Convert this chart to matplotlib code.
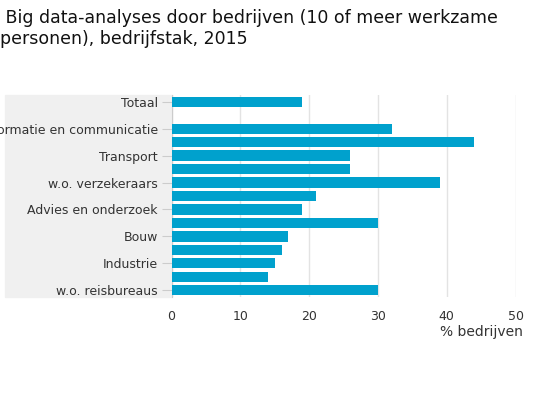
import matplotlib
matplotlib.use("Agg")
import matplotlib.pyplot as plt
from matplotlib.patches import Rectangle

categories = [
    "Totaal",
    "",
    "Informatie en communicatie",
    "w.o. IT-dienstverlening",
    "Transport",
    "Financiële dienstverlening",
    "w.o. verzekeraars",
    "Handel",
    "Advies en onderzoek",
    "Verhuur en overige zakelijke diensten",
    "Bouw",
    "Energie en water",
    "Industrie",
    "Horeca",
    "w.o. reisbureaus",
]
values = [19, None, 32, 44, 26, 26, 39, 21, 19, 30, 17, 16, 15, 14, 30]
shown_labels = ["Totaal", "Informatie en communicatie", "Transport", "w.o. verzekeraars",
                "Advies en onderzoek", "Bouw", "Industrie", "w.o. reisbureaus"]
x_ticks = [0, 10, 20, 30, 40, 50]

title = " Big data-analyses door bedrijven (10 of meer werkzame\npersonen), bedrijfstak, 2015"
xlabel = "% bedrijven"

bar_color = "#00a1cd"
grid_color = "#e3e3e3"
text_color = "#333333"

fig = plt.figure(figsize=(5.35, 4.0), dpi=100)
ax = fig.add_axes([0.3206, 0.2575, 0.643, 0.505])

# grey band behind the category labels
fig.patches.append(Rectangle((5 / 535, 0.2575), 0.3206 - 5 / 535, 0.505,
                             transform=fig.transFigure, color="#f0f0f0", zorder=-5))

pos = [i for i, v in enumerate(values) if v is not None]
vals = [v for v in values if v is not None]
ax.barh(pos, vals, height=0.76, color=bar_color, zorder=3)

ax.set_ylim(len(categories) - 0.5, -0.5)
ax.set_xlim(0, 50)
ax.set_yticks(range(len(categories)))
ax.set_yticklabels([c if c in shown_labels else "" for c in categories])
ax.set_xticks(x_ticks)
ax.xaxis.grid(True, color=grid_color, linewidth=1, zorder=0)
ax.set_axisbelow(True)

for s in ["top", "right", "bottom"]:
    ax.spines[s].set_visible(False)
ax.spines["left"].set_color("#cccccc")

ax.tick_params(axis="y", length=7, color="#cccccc", labelsize=9, labelcolor=text_color, pad=3)
for t, c in zip(ax.get_yticklines()[::2], categories):
    t.set_visible(c in shown_labels)
ax.tick_params(axis="x", length=0, labelsize=9, labelcolor=text_color, pad=9)
ax.patch.set_alpha(0)

fig.text(523 / 535, 1 - 332 / 400, xlabel, ha="right", va="center", fontsize=10, color=text_color)
fig.text(0.0, 1 - 9 / 400, title, ha="left", va="top", fontsize=12.5, color="#111111",
         linespacing=1.25)

fig.savefig("out.png", dpi=100)
